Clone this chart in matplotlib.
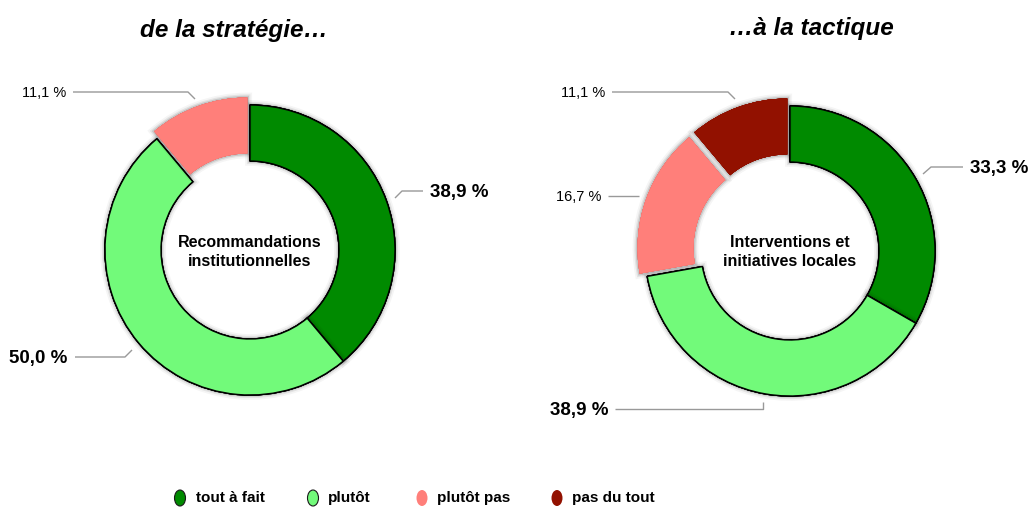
import matplotlib
matplotlib.use("Agg")
import matplotlib.pyplot as plt
import matplotlib.patheffects as pe
from matplotlib.patches import Ellipse

plt.rcParams['font.family'] = ['Liberation Sans', 'DejaVu Sans']

# ---- data ----
categories = ["tout à fait", "plutôt", "plutôt pas", "pas du tout"]
colors = ["#008A00", "#72FA7A", "#FF7F7A", "#921100"]

left_title = "de la stratégie…"
left_center = "Recommandations\ninstitutionnelles"
left_values = [38.9, 50.0, 11.1, 0.0]

right_title = "…à la tactique"
right_center = "Interventions et\ninitiatives locales"
right_values = [33.3, 38.9, 16.7, 11.1]

W, H = 1032, 508
fig = plt.figure(figsize=(W / 100, H / 100), dpi=100)
ax = fig.add_axes([0, 0, 1, 1])

def Y(y):
    return H - y

R_OUT, R_IN = 145, 89
edge_cols = ["black", "black", "none", "none"]
shadow = [pe.withStroke(linewidth=7, foreground=(0, 0, 0, 0.04)),
          pe.withStroke(linewidth=4.5, foreground=(0, 0, 0, 0.07)),
          pe.withStroke(linewidth=2.5, foreground=(0, 0, 0, 0.12)),
          pe.Normal()]

def donut(values, cx, cy, explode_idx):
    vals = [v for v in values if v > 0]
    cols = [c for v, c in zip(values, colors) if v > 0]
    ecs = [e for v, e in zip(values, edge_cols) if v > 0]
    expl = [8 if i in explode_idx else 0 for i, v in enumerate(values) if v > 0]
    wedges, _ = ax.pie(vals, colors=cols, startangle=90, counterclock=False,
                       radius=R_OUT, center=(cx, Y(cy)), explode=expl,
                       wedgeprops=dict(width=R_OUT - R_IN, linewidth=1.0))
    for w, ec in zip(wedges, ecs):
        w.set_edgecolor(ec)
        w.set_path_effects(shadow)
    return wedges

donut(left_values, 250, 250, {2})
donut(right_values, 790, 251, {2, 3})

ax.set_xlim(0, W)
ax.set_ylim(0, H)
ax.set_aspect('equal')
ax.axis('off')

# titles
ax.text(234, Y(30), left_title, ha='center', va='center', fontsize=17.5,
        fontweight='bold', fontstyle='italic')
ax.text(811, Y(29), right_title, ha='center', va='center', fontsize=17.5,
        fontweight='bold', fontstyle='italic')

# center labels
ax.text(250, Y(252), left_center, ha='center', va='center', fontsize=11.5,
        fontweight='bold', linespacing=1.4)
ax.text(790, Y(252), right_center, ha='center', va='center', fontsize=11.5,
        fontweight='bold', linespacing=1.4)

def fmt(v):
    return f"{v:.1f}".replace(".", ",") + " %"

line_kw = dict(color='#999999', lw=1.0, solid_capstyle='butt')

# left donut labels
ax.text(66, Y(93), fmt(left_values[2]), ha='right', va='center', fontsize=10.5)
ax.plot([73, 188, 195], [Y(92), Y(92), Y(99)], **line_kw)
ax.text(430, Y(193), fmt(left_values[0]), ha='left', va='center', fontsize=13.5, fontweight='bold')
ax.plot([395, 402, 423], [Y(198), Y(191), Y(191)], **line_kw)
ax.text(67, Y(359), fmt(left_values[1]), ha='right', va='center', fontsize=13.5, fontweight='bold')
ax.plot([75, 125, 132], [Y(357), Y(357), Y(350)], **line_kw)

# right donut labels
ax.text(605, Y(93), fmt(right_values[3]), ha='right', va='center', fontsize=10.5)
ax.plot([612, 728, 735], [Y(92), Y(92), Y(99)], **line_kw)
ax.text(601, Y(197), fmt(right_values[2]), ha='right', va='center', fontsize=10.5)
ax.plot([608, 639], [Y(196), Y(196)], **line_kw)
ax.text(970, Y(168), fmt(right_values[0]), ha='left', va='center', fontsize=13.5, fontweight='bold')
ax.plot([923, 931, 963], [Y(174), Y(167), Y(167)], **line_kw)
ax.text(608, Y(410), fmt(right_values[1]), ha='right', va='center', fontsize=13.5, fontweight='bold')
ax.plot([615, 763, 763], [Y(409), Y(409), Y(402)], **line_kw)

# legend
leg_marker_x = [180, 313, 422, 557]
leg_text_x = [196, 328, 437, 572]
leg_edges = ["#1a1a1a", "#1a1a1a", "none", "none"]
for mx, tx, lab, col, ec in zip(leg_marker_x, leg_text_x, categories, colors, leg_edges):
    ax.add_patch(Ellipse((mx, Y(498)), 11, 16, facecolor=col, edgecolor=ec, lw=0.8))
    ax.text(tx, Y(498), lab, ha='left', va='center', fontsize=11, fontweight='bold')

fig.savefig("out.png", dpi=100)
